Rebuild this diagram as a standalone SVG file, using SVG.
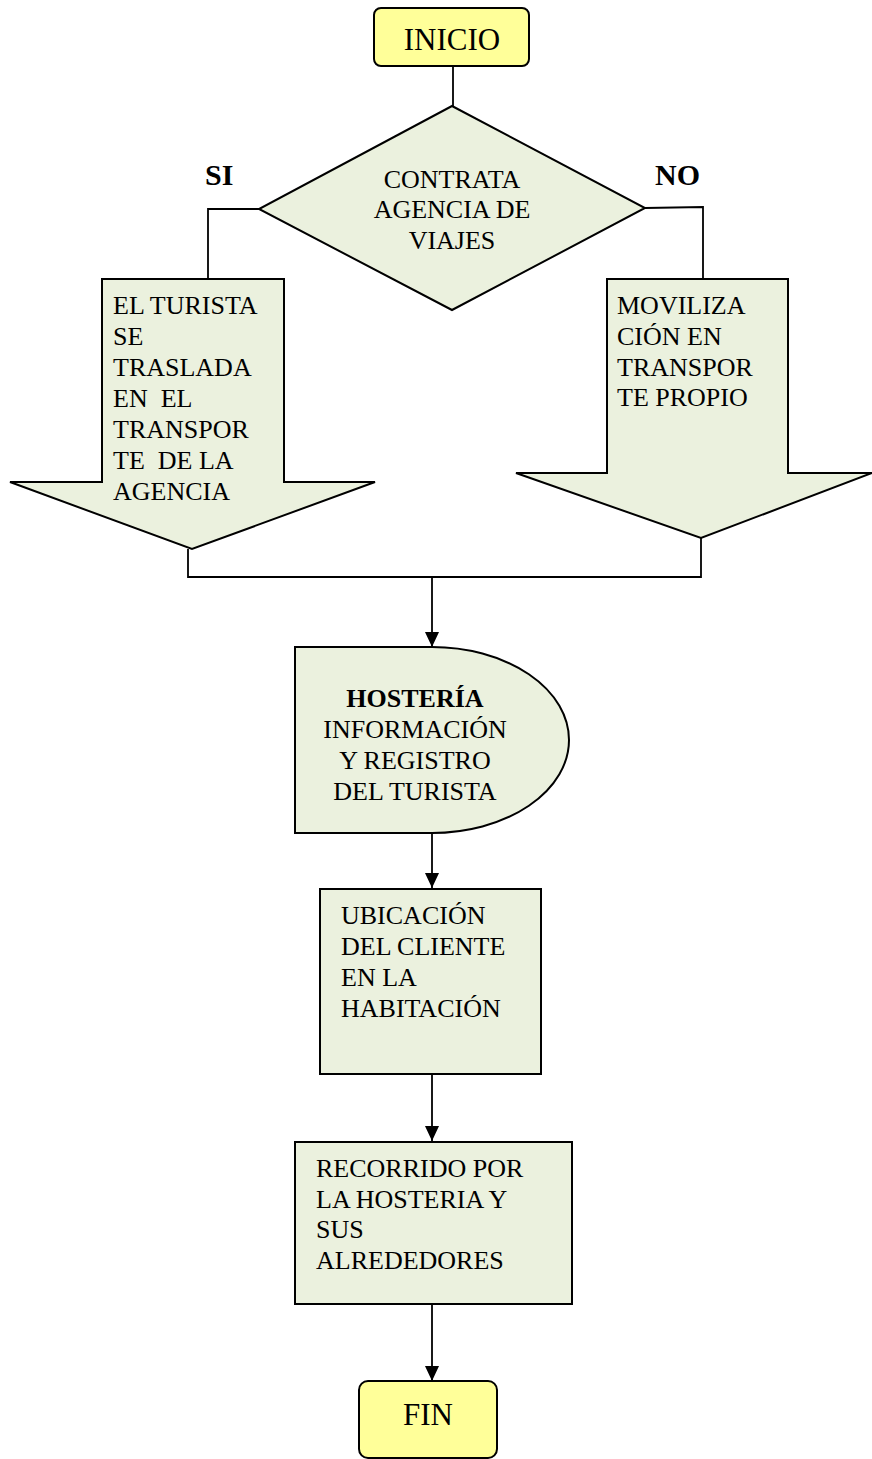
<svg xmlns="http://www.w3.org/2000/svg" width="872" height="1459" viewBox="0 0 872 1459">
<style>
.t{font-family:"Liberation Serif","Times New Roman",serif;font-size:26px;fill:#000}
.c{text-anchor:middle}
.b{font-weight:bold}
.g{fill:#EBF1DE;stroke:#000;stroke-width:2}
.y{fill:#FFFF99;stroke:#000;stroke-width:2}
.ln{fill:none;stroke:#000;stroke-width:1.8}
</style>
<defs>
<marker id="ah" markerWidth="15" markerHeight="14" refX="15" refY="7" orient="auto" markerUnits="userSpaceOnUse" viewBox="0 0 15 14">
<path d="M0,0 L15,7 L0,14 Z" fill="#000"/>
</marker>
</defs>
<rect width="872" height="1459" fill="#fff"/>
<g id="connectors">
<line class="ln" x1="453" y1="66" x2="453" y2="106"/>
<polyline class="ln" points="259,209 208,209 208,279"/>
<polyline class="ln" points="645,208 703,207 703,279"/>
<polyline class="ln" points="188,549 188,577 701,577 701,538"/>
<line class="ln" x1="432" y1="577" x2="432" y2="647" marker-end="url(#ah)"/>
<line class="ln" x1="432" y1="833" x2="432" y2="888" marker-end="url(#ah)"/>
<line class="ln" x1="432" y1="1074" x2="432" y2="1141" marker-end="url(#ah)"/>
<line class="ln" x1="432" y1="1304" x2="432" y2="1381" marker-end="url(#ah)"/>
</g>
<g id="inicio">
<rect class="y" x="374" y="8" width="155" height="58" rx="7"/>
<text class="t c" x="452" y="50" style="font-size:31px">INICIO</text>
</g>
<g id="decision">
<polygon class="g" points="452,106 645,208 452,310 259,209"/>
<text class="t c" x="452" y="188">CONTRATA</text>
<text class="t c" x="452" y="218">AGENCIA DE</text>
<text class="t c" x="452" y="249">VIAJES</text>
</g>
<g id="label-si">
<text class="t b" x="205" y="185" style="font-size:30px">SI</text>
</g>
<g id="label-no">
<text class="t b" x="655" y="185" style="font-size:30px">NO</text>
</g>
<g id="arrow-si">
<polygon class="g" points="102,279 284,279 284,482 375,482 192,549 10,482 102,482"/>
<text class="t" x="113" y="314">EL TURISTA</text>
<text class="t" x="113" y="345">SE</text>
<text class="t" x="113" y="376">TRASLADA</text>
<text class="t" x="113" y="407" xml:space="preserve">EN  EL</text>
<text class="t" x="113" y="438">TRANSPOR</text>
<text class="t" x="113" y="469" xml:space="preserve">TE  DE LA</text>
<text class="t" x="113" y="500">AGENCIA</text>
</g>
<g id="arrow-no">
<polygon class="g" points="607,279 788,279 788,473 872,473 701,538 516,473 607,473"/>
<text class="t" x="617" y="314">MOVILIZA</text>
<text class="t" x="617" y="345">CIÓN EN</text>
<text class="t" x="617" y="376">TRANSPOR</text>
<text class="t" x="617" y="406">TE PROPIO</text>
</g>
<g id="hosteria">
<path class="g" d="M295,647 L432,647 A137,93 0 0 1 432,833 L295,833 Z"/>
<text class="t c b" x="415" y="707">HOSTERÍA</text>
<text class="t c" x="415" y="738">INFORMACIÓN</text>
<text class="t c" x="415" y="769">Y REGISTRO</text>
<text class="t c" x="415" y="800">DEL TURISTA</text>
</g>
<g id="ubicacion">
<rect class="g" x="320" y="889" width="221" height="185"/>
<text class="t" x="341" y="924">UBICACIÓN</text>
<text class="t" x="341" y="955">DEL CLIENTE</text>
<text class="t" x="341" y="986">EN LA</text>
<text class="t" x="341" y="1017">HABITACIÓN</text>
</g>
<g id="recorrido">
<rect class="g" x="295" y="1142" width="277" height="162"/>
<text class="t" x="316" y="1177">RECORRIDO POR</text>
<text class="t" x="316" y="1208">LA HOSTERIA Y</text>
<text class="t" x="316" y="1238">SUS</text>
<text class="t" x="316" y="1269">ALREDEDORES</text>
</g>
<g id="fin">
<rect class="y" x="359" y="1381" width="138" height="77" rx="9"/>
<text class="t c" x="428" y="1425" style="font-size:31px">FIN</text>
</g>
</svg>
